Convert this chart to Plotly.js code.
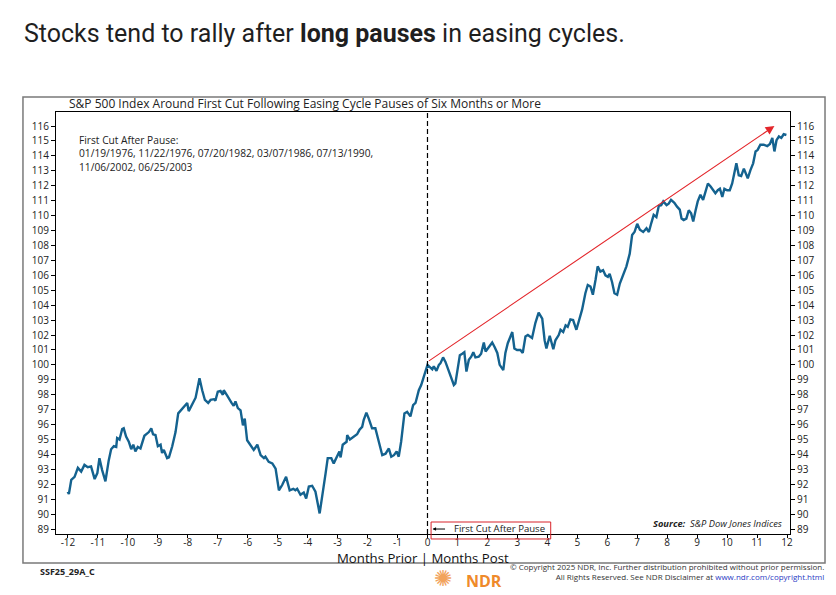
<!DOCTYPE html>
<html>
<head>
<meta charset="utf-8">
<script src="https://cdn.plot.ly/plotly-3.0.1.min.js"></script>
<style>
  html, body { margin: 0; padding: 0; background: #fff; }
  #chart { width: 836px; height: 595px; }
</style>
</head>
<body>
<div id="chart"></div>
<script>
// months relative to the first cut after the pause (0 = cut day)
const monthsFromCut = [
  -12.01,-11.97,-11.89,-11.78,-11.67,-11.56,-11.45,-11.34,-11.23,-11.11,
  -11.02,-10.95,-10.86,-10.75,-10.64,-10.56,-10.47,-10.39,-10.36,-10.28,
  -10.19,-10.14,-10.06,-9.97,-9.89,-9.82,-9.75,-9.67,-9.58,-9.45,
  -9.30,-9.22,-9.16,-9.08,-9.00,-8.91,-8.86,-8.80,-8.69,-8.63,
  -8.52,-8.41,-8.32,-8.21,-8.10,-8.02,-7.97,-7.85,-7.74,-7.69,
  -7.61,-7.52,-7.43,-7.32,-7.24,-7.13,-7.08,-7.00,-6.91,-6.83,
  -6.80,-6.69,-6.61,-6.54,-6.47,-6.41,-6.33,-6.24,-6.16,-6.10,
  -6.02,-5.91,-5.80,
  -5.68,-5.57,-5.46,-5.41,-5.30,-5.18,-5.07,-4.96,-4.85,-4.72,
  -4.60,-4.48,-4.41,-4.35,-4.24,-4.13,-4.05,-3.96,-3.85,-3.74,
  -3.60,-3.51,-3.40,-3.33,-3.21,-3.13,-3.01,-2.94,-2.90,-2.83,
  -2.70,-2.68,-2.59,-2.46,-2.35,-2.27,-2.18,-2.13,-2.04,-1.96,
  -1.85,-1.74,-1.63,-1.51,-1.40,-1.29,-1.21,-1.12,-1.03,-0.96,
  -0.88,-0.77,-0.68,-0.57,-0.48,-0.40,-0.29,-0.21,-0.14,0,
  0.16,0.21,0.30,0.38,0.43,0.52,0.60,0.68,0.77,0.88,
  0.93,0.99,1.08,1.16,1.23,1.30,1.38,1.46,1.53,1.60,
  1.71,1.79,1.88,1.94,2.05,2.16,2.24,2.33,2.41,2.53,
  2.60,2.68,2.77,2.83,2.90,2.99,3.10,3.18,3.27,3.35,
  3.49,3.60,3.71,3.83,3.91,3.97,4.08,4.20,4.27,4.38,
  4.44,4.53,4.61,4.68,4.77,4.86,4.97,5.05,5.16,5.27,
  5.35,5.44,5.52,5.61,5.68,5.77,5.86,5.94,6.02,6.08,
  6.16,6.24,6.33,6.42,6.53,6.64,6.75,6.83,6.91,7.00,
  7.09,7.20,7.31,7.39,7.47,7.55,7.64,7.72,7.80,7.87,
  7.98,8.05,8.13,8.24,8.33,8.42,8.48,8.55,8.64,8.72,
  8.80,8.87,8.95,9.02,9.11,9.20,9.28,9.36,9.45,9.54,
  9.61,9.69,9.76,9.84,9.91,10.00,10.09,10.17,10.25,10.31,
  10.39,10.47,10.56,10.61,10.69,10.78,10.87,10.95,11.02,11.11,
  11.22,11.34,11.43,11.51,11.58,11.65,11.73,11.81,11.89,11.98
];

// S&P 500 composite, cut day = 100
const spxIndex = [
  91.5,91.35,92.3,92.5,93.1,92.85,93.3,93.15,93.2,92.35,
  92.75,93.75,92.95,92.2,93.6,94.35,94.55,94.5,95.1,95.0,
  95.7,95.75,95.2,94.85,94.35,94.65,94.2,94.5,94.4,95.25,
  95.5,95.75,95.35,95.3,94.55,94.65,94.1,94.3,93.75,93.8,
  94.55,95.5,96.75,97.0,97.2,97.45,96.9,97.4,97.8,98.3,
  99.1,98.3,97.65,97.45,97.65,97.7,97.6,98.2,98.25,98.0,
  98.3,97.95,97.65,97.45,97.25,97.55,97.1,96.95,95.95,96.4,
  94.95,94.6,94.3,
  94.65,93.95,93.75,93.85,93.5,93.4,93.05,91.6,91.95,92.5,
  91.6,91.7,91.6,91.7,91.3,91.45,91.05,91.85,91.9,91.5,
  90.05,91.15,92.75,93.75,93.75,93.4,93.85,94.2,93.8,94.65,
  94.85,95.3,95.0,95.2,95.35,95.65,95.85,96.3,96.8,96.4,
  95.75,95.75,94.95,93.95,94.05,94.4,93.85,93.95,94.2,93.85,
  94.85,96.75,96.85,96.55,97.3,97.45,98.3,98.65,99.1,100.0,
  99.7,99.9,99.6,100.0,100.1,100.5,100.2,99.75,99.2,98.65,
  98.75,99.65,100.65,100.75,100.85,99.55,100.35,100.55,100.85,100.5,
  100.55,100.75,101.5,100.9,101.2,101.5,101.2,100.8,100.0,99.65,
  100.8,101.45,101.9,102.2,101.1,101.0,101.0,100.8,101.9,102.0,
  101.8,102.8,103.5,103.1,101.65,101.1,101.95,101.05,101.65,102.0,
  102.35,102.2,102.65,102.55,103.05,103.0,102.35,102.9,103.7,104.8,
  105.35,105.25,104.7,105.7,106.6,106.25,106.35,106.0,105.9,106.1,
  105.55,104.8,104.7,105.45,106.0,106.6,107.45,108.7,108.9,109.45,
  109.05,108.9,109.15,108.9,109.5,110.05,109.9,110.65,110.7,110.95,
  110.7,110.8,111.05,110.85,110.6,110.4,109.8,109.7,109.8,110.35,
  110.15,109.6,110.35,110.95,111.4,111.05,111.6,112.15,111.95,111.65,
  111.5,111.7,111.8,111.25,111.8,111.7,111.7,112.15,113.05,113.5,
  112.7,112.65,113.15,112.85,112.5,113.05,113.5,114.3,114.4,114.75,
  114.75,114.65,114.8,115.2,114.3,115.05,115.3,115.2,115.45,115.4
];

const monthTicks = [-12,-11,-10,-9,-8,-7,-6,-5,-4,-3,-2,-1,0,1,2,3,4,5,6,7,8,9,10,11,12];
const indexTicks = [89,90,91,92,93,94,95,96,97,98,99,100,101,102,103,104,105,106,107,108,109,110,111,112,113,114,115,116];

// trend arrow: [month, index]
const trendStart = [0, 100.2];
const trendEnd = [11.58, 116.0];

const cutDates = ['01/19/1976', '11/22/1976', '07/20/1982', '03/07/1986', '07/13/1990', '11/06/2002', '06/25/2003'];

const font = 'Open Sans, DejaVu Sans, sans-serif';
const yRange = [88.67, 116.94];

var traces = [
  {
    x: monthsFromCut,
    y: spxIndex,
    type: 'scatter',
    mode: 'lines',
    line: {color: '#14628f', width: 2.4},
    hoverinfo: 'skip'
  },
  {
    // keeps the right-hand axis alive
    x: [monthsFromCut[0]],
    y: [spxIndex[0]],
    yaxis: 'y2',
    type: 'scatter',
    mode: 'markers',
    marker: {opacity: 0},
    hoverinfo: 'skip'
  }
];

var tickAxis = {
  range: yRange,
  tickmode: 'array',
  tickvals: indexTicks,
  ticks: 'outside',
  ticklen: 4,
  tickcolor: '#000',
  tickfont: {family: font, size: 10, color: '#222'},
  showgrid: false,
  zeroline: false
};

var layout = {
  width: 836,
  height: 595,
  margin: {l: 56, r: 46, t: 112, b: 61, pad: 0},
  paper_bgcolor: '#fff',
  plot_bgcolor: '#fff',
  showlegend: false,
  xaxis: {
    range: [-12.4, 12.1],
    tickmode: 'array',
    tickvals: monthTicks,
    ticktext: monthTicks.map(String),
    ticks: 'outside',
    ticklen: 3,
    tickcolor: '#000',
    ticklabelstandoff: -4,
    tickfont: {family: font, size: 10, color: '#222'},
    showline: true,
    linecolor: '#000',
    linewidth: 1,
    mirror: true,
    showgrid: false,
    zeroline: false
  },
  yaxis: Object.assign({}, tickAxis, {
    showline: true, linecolor: '#000', linewidth: 1, mirror: true
  }),
  yaxis2: Object.assign({}, tickAxis, {
    overlaying: 'y', side: 'right', anchor: 'x', showline: false
  }),
  shapes: [
    // outer frame
    {type: 'rect', xref: 'paper', yref: 'paper', x0: -0.045, x1: 1.0477, y0: -0.0687, y1: 1.0355,
     line: {color: '#7a7a7a', width: 1.5}},
    // first cut marker
    {type: 'line', xref: 'x', yref: 'paper', x0: 0, x1: 0, y0: 0, y1: 1,
     line: {color: '#000', width: 1.2, dash: '5px,3px'}},
    // red label box
    {type: 'rect', xref: 'paper', yref: 'paper', x0: 0.511, x1: 0.674, y0: -0.0118, y1: 0.0284,
     line: {color: '#d8232a', width: 1}}
  ],
  annotations: [
    {xref: 'paper', yref: 'paper', x: -0.0463, y: 1.187, xanchor: 'left', yanchor: 'middle',
     text: 'Stocks tend to rally after <b>long pauses</b> in easing cycles.',
     font: {family: 'Roboto, sans-serif', size: 25, color: '#1f1f1f'}, showarrow: false},
    {xref: 'paper', yref: 'paper', x: 0.015, y: 1.019, xanchor: 'left', yanchor: 'middle',
     text: 'S&amp;P 500 Index Around First Cut Following Easing Cycle Pauses of Six Months or More',
     font: {family: font, size: 12, color: '#222'}, showarrow: false},
    {xref: 'paper', yref: 'paper', x: 0.0286, y: 0.955, xanchor: 'left', yanchor: 'top', align: 'left',
     text: 'First Cut After Pause:<br>' + cutDates.slice(0, 5).join(', ') + ',<br>' + cutDates.slice(5).join(', '),
     font: {family: font, size: 10.2, color: '#222'}, showarrow: false},
    {xref: 'x', yref: 'y', axref: 'x', ayref: 'y',
     x: trendEnd[0], y: trendEnd[1], ax: trendStart[0], ay: trendStart[1],
     text: '', showarrow: true, arrowhead: 2, arrowsize: 1.6, arrowwidth: 1.1, arrowcolor: '#e3262b'},
    {xref: 'paper', yref: 'paper', x: 0.513, y: 0.0118, ax: 14, ay: 0,
     text: '', showarrow: true, arrowhead: 2, arrowsize: 0.7, arrowwidth: 1, arrowcolor: '#000'},
    {xref: 'paper', yref: 'paper', x: 0.540, y: 0.0142, xanchor: 'left', yanchor: 'middle',
     text: 'First Cut After Pause', font: {family: font, size: 9.6, color: '#222'}, showarrow: false},
    {xref: 'paper', yref: 'paper', x: 0.992, y: 0.0237, xanchor: 'right', yanchor: 'middle',
     text: '<b><i>Source:</i></b>  <i>S&amp;P Dow Jones Indices</i>',
     font: {family: font, size: 9.3, color: '#222'}, showarrow: false},
    {xref: 'paper', yref: 'paper', x: 0.5, y: -0.0569, xanchor: 'center', yanchor: 'middle',
     text: 'Months Prior | Months Post', font: {family: font, size: 13.2, color: '#111'}, showarrow: false},
    {xref: 'paper', yref: 'paper', x: -0.0245, y: -0.0877, xanchor: 'left', yanchor: 'middle',
     text: '<b>SSF25_29A_C</b>', font: {family: font, size: 9, color: '#222'}, showarrow: false},
    {xref: 'paper', yref: 'paper', x: 1.049, y: -0.0877, xanchor: 'right', yanchor: 'middle', align: 'right',
     text: '© Copyright 2025 NDR, Inc. Further distribution prohibited without prior permission.<br>' +
           'All Rights Reserved. See NDR Disclaimer at <span style="color:#2b3bc4">www.ndr.com/copyright.html</span>',
     font: {family: font, size: 8, color: '#333'}, showarrow: false},
    {xref: 'paper', yref: 'paper', x: 0.527, y: -0.1066, xanchor: 'center', yanchor: 'middle',
     text: '✺', font: {family: 'DejaVu Sans', size: 22, color: '#f2a35c'}, showarrow: false},
    {xref: 'paper', yref: 'paper', x: 0.583, y: -0.111, xanchor: 'center', yanchor: 'middle',
     text: '<b>NDR</b>', font: {family: font, size: 16, color: '#ef8a2a'}, showarrow: false}
  ]
};

Plotly.newPlot(document.getElementById('chart'), traces, layout, {staticPlot: true, displayModeBar: false});
</script>
</body>
</html>
